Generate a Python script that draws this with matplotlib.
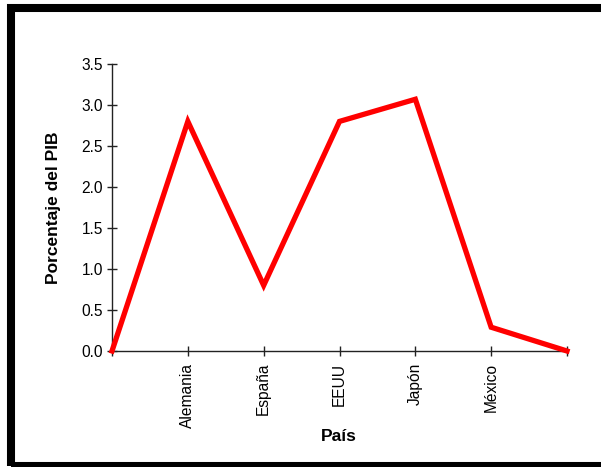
import numpy as np
import matplotlib.pyplot as plt
from matplotlib.patches import Rectangle

plt.rcParams['font.family'] = ['Liberation Sans', 'DejaVu Sans']

paises = ['', 'Alemania', 'España', 'EEUU', 'Japón', 'México', '']
valores = [0.0, 2.8, 0.8, 2.8, 3.07, 0.29, 0.0]
y_ticks = [0.0, 0.5, 1.0, 1.5, 2.0, 2.5, 3.0, 3.5]

fig = plt.figure(figsize=(6.01, 4.67), dpi=100)
ax = fig.add_axes([112 / 601, 1 - 351 / 467, (567 - 112) / 601, (351 - 64) / 467])

x = np.arange(len(paises))
ax.plot(x, valores, color='#ff0000', linewidth=3.8, solid_joinstyle='miter', clip_on=False, zorder=3)

ax.set_xlim(0, len(paises) - 1)
ax.set_ylim(0, 3.5)
ax.set_xticks(x)
ax.set_xticklabels(paises, rotation=90, fontsize=11.2)
ax.set_yticks(y_ticks)
ax.set_yticklabels(['%.1f' % v for v in y_ticks], fontsize=11.2)
ax.tick_params(direction='inout', length=7, width=1, color='#222222', pad=3)
ax.tick_params(axis='x', pad=5)

for s in ['top', 'right']:
    ax.spines[s].set_visible(False)
for s in ['left', 'bottom']:
    ax.spines[s].set_color('#222222')
    ax.spines[s].set_linewidth(1)

ax.set_ylabel('Porcentaje del PIB', fontsize=12.5, fontweight='bold')
ax.set_xlabel('País', fontsize=12.5, fontweight='bold')
ax.yaxis.set_label_coords(-0.112, 0.5)
ax.xaxis.set_label_coords(0.499, -0.272)

# marco negro alrededor de la figura (el lado derecho queda fuera de la imagen)
fig.patches.append(Rectangle((11 / 601, 1 / 467), 600 / 601, 458 / 467, transform=fig.transFigure,
                             fill=False, edgecolor='black', linewidth=5.8))

fig.savefig('out.png', dpi=100)
